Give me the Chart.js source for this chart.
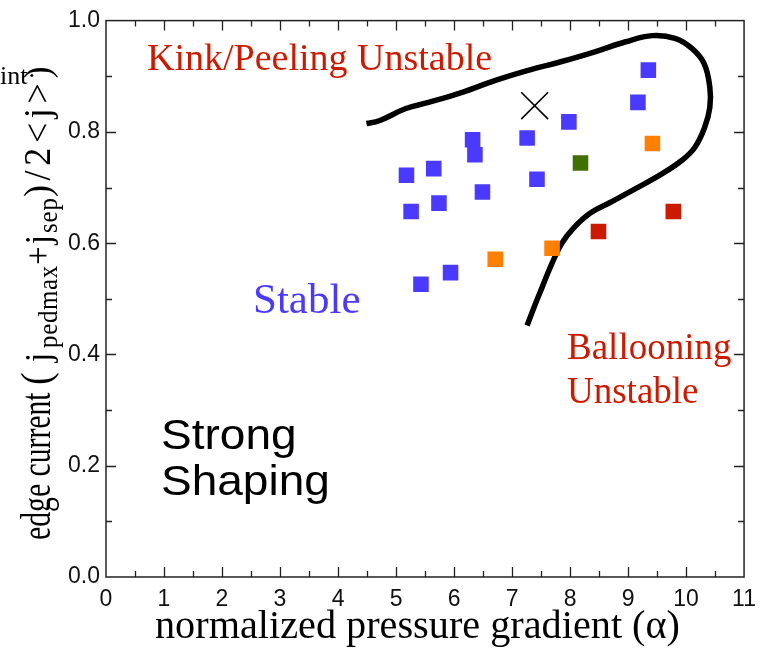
<!DOCTYPE html>
<html>
<head>
<meta charset="utf-8">
<script src="https://cdn.jsdelivr.net/npm/chart.js@4"></script>
<style>
html,body{margin:0;padding:0;background:#fff;}
#wrap{width:765px;height:650px;position:relative;}
</style>
</head>
<body>
<div id="wrap"><canvas id="c" width="765" height="650"></canvas></div>
<script>
// ---- data ----
const xTicks = [0,1,2,3,4,5,6,7,8,9,10,11];
const yTicks = [0.0,0.2,0.4,0.6,0.8,1.0];

const blueX = [5.18,5.26,5.65,5.74,6.32,6.36,6.49,5.43,5.94,7.26,7.43,7.98,9.17,9.35];
const blueY = [0.722,0.657,0.734,0.672,0.786,0.759,0.692,0.526,0.547,0.789,0.715,0.818,0.853,0.911];
const orangeX = [6.71,7.69,9.42];
const orangeY = [0.571,0.591,0.779];
const greenX = [8.18];
const greenY = [0.744];
const redX = [8.49,9.78];
const redY = [0.621,0.657];
const crossX = [7.39];
const crossY = [0.847];

const boundaryX = [4.49,4.71,5.17,5.56,6.14,6.70,7.26,7.84,8.40,8.96,9.42,9.81,10.10,10.31,10.41,10.41,10.32,10.15,9.93,9.59,9.13,8.69,8.35,8.06,7.86,7.69,7.52,7.38,7.26];
const boundaryY = [0.815,0.820,0.842,0.853,0.871,0.892,0.910,0.926,0.943,0.962,0.973,0.968,0.950,0.923,0.880,0.844,0.808,0.772,0.749,0.725,0.698,0.673,0.654,0.627,0.600,0.564,0.521,0.485,0.452];

const pts = (xs, ys) => xs.map((x, i) => ({x: x, y: ys[i]}));

const SERIF = "'Liberation Serif', 'Times New Roman', serif";
const SANS = "'Liberation Sans', Arial, sans-serif";

function stretchText(ctx, text, x, y, sx, sy) {
  ctx.save();
  ctx.translate(x, y);
  ctx.scale(sx, sy || 1);
  ctx.fillText(text, 0, 0);
  ctx.restore();
}

const decor = {
  id: 'decor',
  afterDraw(chart) {
    const ctx = chart.ctx;
    const a = chart.chartArea;
    const xs = chart.scales.x, ys = chart.scales.y;
    ctx.save();
    // frame
    ctx.strokeStyle = '#222';
    ctx.lineWidth = 1.5;
    ctx.strokeRect(a.left, a.top, a.right - a.left, a.bottom - a.top);
    // inward ticks
    ctx.lineWidth = 1.3;
    ctx.beginPath();
    for (let v = 0.5; v < 11; v += 0.5) {
      const px = Math.round(xs.getPixelForValue(v)) + 0.5;
      const len = (Math.abs(v - Math.round(v)) < 1e-6) ? 10 : 6;
      ctx.moveTo(px, a.bottom); ctx.lineTo(px, a.bottom - len);
      ctx.moveTo(px, a.top); ctx.lineTo(px, a.top + len);
    }
    for (let k = 1; k < 10; k++) {
      const v = k / 10;
      const py = Math.round(ys.getPixelForValue(v)) + 0.5;
      const len = (k % 2 === 0) ? 10 : 6;
      ctx.moveTo(a.left, py); ctx.lineTo(a.left + len, py);
      ctx.moveTo(a.right, py); ctx.lineTo(a.right - len, py);
    }
    ctx.stroke();

    // annotations
    ctx.textBaseline = 'alphabetic';
    ctx.textAlign = 'left';
    ctx.fillStyle = '#CC1A00';
    ctx.font = '38px ' + SERIF;
    ctx.fillText('Kink/Peeling Unstable', 147, 70);
    ctx.font = '37px ' + SERIF;
    ctx.fillText('Ballooning', 567, 359);
    ctx.fillText('Unstable', 567, 403);
    ctx.fillStyle = '#4A3AFF';
    ctx.font = '43px ' + SERIF;
    ctx.fillText('Stable', 253, 313);
    ctx.fillStyle = '#000';
    ctx.font = '43px ' + SANS;
    stretchText(ctx, 'Strong', 161, 449, 1.07);
    stretchText(ctx, 'Shaping', 161, 495, 1.07);

    // x axis title
    ctx.font = '39px ' + SERIF;
    const xt = 'normalized pressure gradient (\u03B1)';
    const w = ctx.measureText(xt).width;
    stretchText(ctx, xt, 155, 638, 525 / w);

    // stray fragment at top-left
    ctx.font = '26px ' + SERIF;
    ctx.fillText('int\u00B7', 0, 84);

    // y axis title (rotated, with subscripts); glyphs spaced to fill each measured span
    ctx.translate(50, 0);
    ctx.rotate(-Math.PI / 2);
    // [text, font size, baseline shift, start y, end y, thickness scale]
    const segs = [
      ['edge current ', 34, 0, 540, 385, 1.25],
      ['(', 38, 0, 385, 362, 1.1],
      ['j', 33, 0, 362, 348, 1.1],
      ['pedmax', 25, 7, 348, 265, 1.1],
      ['+j', 33, 0, 265, 233, 1.1],
      ['sep', 25, 7, 233, 197, 1.1],
      [')/2<j>)', 36, 0, 197, 62, 1.05]
    ];
    for (const s of segs) {
      ctx.font = s[1] + 'px ' + SERIF;
      const chars = Array.from(s[0]);
      const nat = ctx.measureText(s[0]).width;
      const span = s[3] - s[4];
      let sx = 1, gap = (span - nat) / chars.length;
      if (gap < 0) { sx = span / nat; gap = 0; }
      let pos = -s[3];
      for (const ch of chars) {
        ctx.save();
        ctx.translate(pos, s[2]);
        ctx.scale(sx, s[5]);
        ctx.fillText(ch, 0, 0);
        ctx.restore();
        pos += ctx.measureText(ch).width * sx + gap;
      }
    }
    ctx.restore();
  }
};

const ctx = document.getElementById('c').getContext('2d');
new Chart(ctx, {
  type: 'scatter',
  data: {
    datasets: [
      {label: 'boundary', data: pts(boundaryX, boundaryY), showLine: true, borderColor: '#000', borderWidth: 5.5,
       pointRadius: 0, tension: 0.4, fill: false, order: 1},
      {label: 'stable', data: pts(blueX, blueY), pointStyle: 'rect', pointRadius: 11, backgroundColor: '#4A3AFF', borderWidth: 0, order: 0},
      {label: 'orange', data: pts(orangeX, orangeY), pointStyle: 'rect', pointRadius: 11, backgroundColor: '#FF7F00', borderWidth: 0, order: 0},
      {label: 'green', data: pts(greenX, greenY), pointStyle: 'rect', pointRadius: 11, backgroundColor: '#3F7000', borderWidth: 0, order: 0},
      {label: 'red', data: pts(redX, redY), pointStyle: 'rect', pointRadius: 11, backgroundColor: '#CC1A00', borderWidth: 0, order: 0},
      {label: 'cross', data: pts(crossX, crossY), pointStyle: 'crossRot', pointRadius: 19, borderColor: '#000', borderWidth: 1.6, backgroundColor: '#000', order: 0}
    ]
  },
  options: {
    responsive: false,
    animation: false,
    devicePixelRatio: 1,
    layout: {padding: {left: 0, right: 12, top: 20, bottom: 0}},
    plugins: {legend: {display: false}, tooltip: {enabled: false}, title: {display: false}},
    scales: {
      x: {
        type: 'linear', min: 0, max: 11,
        afterFit: (s) => { s.height = 73; },
        afterBuildTicks: (s) => { s.ticks = xTicks.map(v => ({value: v})); },
        grid: {display: false, drawTicks: false},
        border: {display: false},
        ticks: {padding: 9, color: '#111', font: {family: SANS, size: 23}, maxRotation: 0, autoSkip: false,
                callback: (v) => String(v)}
      },
      y: {
        type: 'linear', min: 0, max: 1,
        afterFit: (s) => { s.width = 106; },
        afterBuildTicks: (s) => { s.ticks = yTicks.map(v => ({value: v})); },
        grid: {display: false, drawTicks: false},
        border: {display: false},
        ticks: {padding: 6, color: '#111', font: {family: SANS, size: 23}, autoSkip: false,
                callback: (v) => Number(v).toFixed(1)}
      }
    }
  },
  plugins: [decor]
});
</script>
</body>
</html>
